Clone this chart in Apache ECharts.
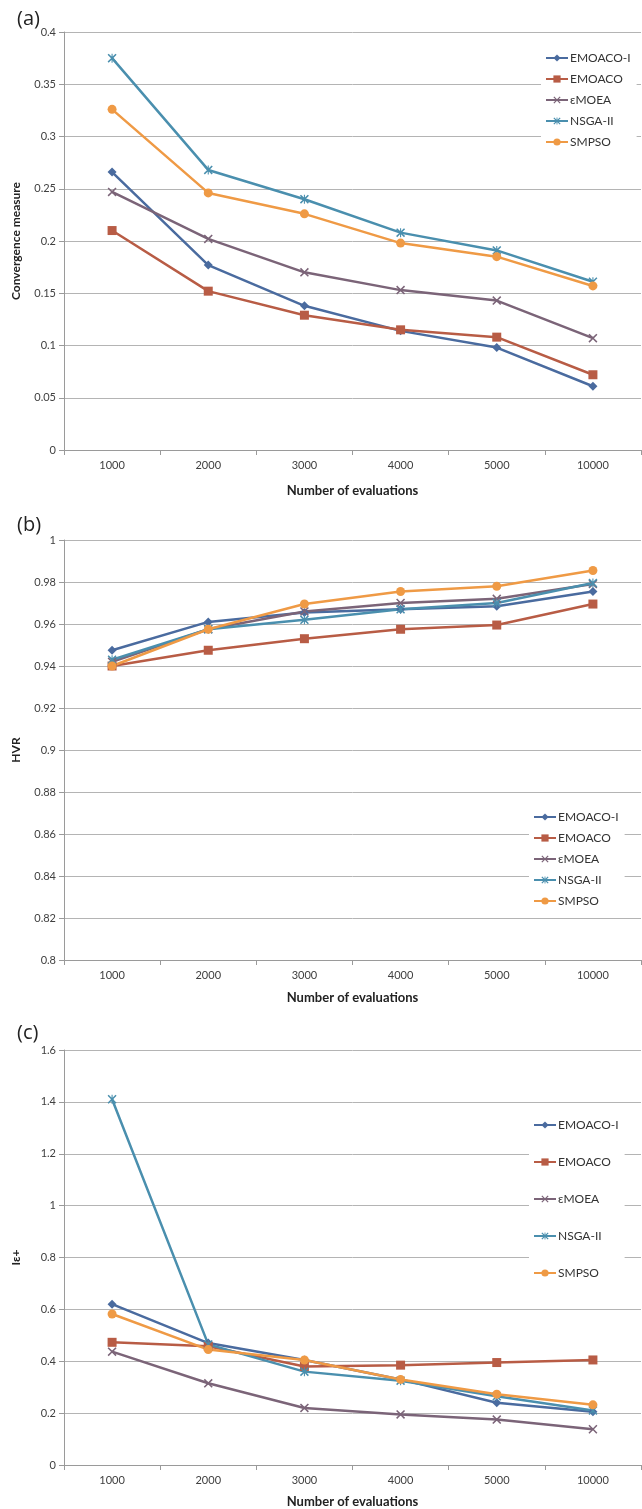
<!DOCTYPE html>
<html>
<head>
<meta charset="utf-8">
<script src="https://cdn.jsdelivr.net/npm/echarts@6/dist/echarts.min.js"></script>
<style>
  html, body { margin: 0; padding: 0; background: #fff; }
  #chart { width: 642px; height: 1509px; }
</style>
</head>
<body>
<div id="chart"></div>
<script>
const evaluations = ['1000', '2000', '3000', '4000', '5000', '10000']
const algorithms = ['EMOACO-I', 'EMOACO', 'εMOEA', 'NSGA-II', 'SMPSO']

// (a) convergence measure
const convEmoacoI = [0.266, 0.177, 0.138, 0.114, 0.098, 0.061]
const convEmoaco = [0.210, 0.152, 0.129, 0.115, 0.108, 0.072]
const convEmoea = [0.247, 0.202, 0.170, 0.153, 0.143, 0.107]
const convNsga = [0.375, 0.268, 0.240, 0.208, 0.191, 0.161]
const convSmpso = [0.326, 0.246, 0.226, 0.198, 0.185, 0.157]

// (b) HVR
const hvrEmoacoI = [0.9475, 0.961, 0.9655, 0.967, 0.9685, 0.9755]
const hvrEmoaco = [0.940, 0.9475, 0.953, 0.9575, 0.9595, 0.9695]
const hvrEmoea = [0.942, 0.9575, 0.966, 0.970, 0.972, 0.979]
const hvrNsga = [0.943, 0.9575, 0.962, 0.967, 0.970, 0.9795]
const hvrSmpso = [0.940, 0.9575, 0.9695, 0.9755, 0.978, 0.9855]

// (c) I-epsilon+
const epsEmoacoI = [0.62, 0.47, 0.405, 0.33, 0.24, 0.205]
const epsEmoaco = [0.473, 0.458, 0.38, 0.385, 0.395, 0.405]
const epsEmoea = [0.437, 0.315, 0.22, 0.195, 0.175, 0.138]
const epsNsga = [1.41, 0.465, 0.36, 0.325, 0.265, 0.21]
const epsSmpso = [0.582, 0.445, 0.405, 0.33, 0.273, 0.232]

const colors = ['#4a6b9f', '#b85c45', '#7b6478', '#4a8fae', '#ef9a45']
const xShape = 'path://M0,1.2 L1.2,0 L5,3.8 L8.8,0 L10,1.2 L6.2,5 L10,8.8 L8.8,10 L5,6.2 L1.2,10 L0,8.8 L3.8,5 Z'
const starShape = 'path://M0,1.2 L1.2,0 L5,3.8 L8.8,0 L10,1.2 L6.2,5 L10,8.8 L8.8,10 L5,6.2 L1.2,10 L0,8.8 L3.8,5 Z M4.4,0 L5.6,0 L5.6,10 L4.4,10 Z'
const symbols = ['diamond', 'rect', xShape, starShape, 'circle']

const font = 'Lato, "Open Sans", sans-serif'
const panels = [
  { top: 32, height: 418, min: 0, max: 0.4, interval: 0.05, name: 'Convergence measure', data: [convEmoacoI, convEmoaco, convEmoea, convNsga, convSmpso], legendTop: 47, legendLeft: 541, legendGap: 9, nameGap: 34 },
  { top: 540, height: 420, min: 0.8, max: 1, interval: 0.02, name: 'HVR', data: [hvrEmoacoI, hvrEmoaco, hvrEmoea, hvrNsga, hvrSmpso], legendTop: 806, legendLeft: 529, legendGap: 9, nameGap: 31 },
  { top: 1050, height: 419, min: 0, max: 1.6, interval: 0.2, name: 'Iε+', data: [epsEmoacoI, epsEmoaco, epsEmoea, epsNsga, epsSmpso], legendTop: 1114, legendLeft: 529, legendGap: 25, nameGap: 30 },
]
const letters = ['(a)', '(b)', '(c)']
const letterTops = [4, 510, 1018]

const option = {
  animation: false,
  backgroundColor: '#fff',
  textStyle: { fontFamily: font },
  title: letters.map((t, i) => ({
    text: t, left: 12, top: letterTops[i],
    textStyle: { fontSize: 20, fontWeight: 'normal', color: '#222', fontFamily: 'Open Sans, sans-serif' },
  })),
  grid: panels.map(p => ({ left: 64, right: 1, top: p.top, height: p.height, containLabel: false })),
  xAxis: panels.map((p, i) => ({
    type: 'category',
    gridIndex: i,
    data: evaluations,
    boundaryGap: true,
    name: 'Number of evaluations',
    nameLocation: 'middle',
    nameGap: p.nameGap,
    nameTextStyle: { fontSize: 13, fontWeight: 'bold', color: '#222' },
    axisLine: { lineStyle: { color: '#9a9a9a', width: 1 } },
    axisTick: { show: true, length: 5, lineStyle: { color: '#9a9a9a' } },
    axisLabel: { fontSize: 11, color: '#404040', margin: 10 },
    splitLine: { show: false },
  })),
  yAxis: panels.map((p, i) => ({
    type: 'value',
    gridIndex: i,
    min: p.min,
    max: p.max,
    interval: p.interval,
    name: p.name,
    nameLocation: 'middle',
    nameGap: 42,
    nameTextStyle: { fontSize: 12, fontWeight: 'bold', color: '#222' },
    axisLine: { show: true, lineStyle: { color: '#9a9a9a', width: 1 } },
    axisTick: { show: true, length: 5, lineStyle: { color: '#9a9a9a' } },
    axisLabel: { fontSize: 11, color: '#404040', margin: 8 },
    splitLine: { lineStyle: { color: '#b4b4b4', width: 1 } },
  })),
  legend: panels.map(p => ({
    orient: 'vertical',
    left: p.legendLeft,
    top: p.legendTop,
    data: algorithms,
    itemGap: p.legendGap,
    itemWidth: 22,
    itemHeight: 9,
    backgroundColor: '#fff',
    padding: [5, 6, 5, 4],
    textStyle: { fontSize: 12, color: '#333', padding: [0, 0, 0, -3] },
  })),
  series: [],
}

panels.forEach((p, pi) => {
  p.data.forEach((values, si) => {
    option.series.push({
      name: algorithms[si],
      type: 'line',
      xAxisIndex: pi,
      yAxisIndex: pi,
      data: values,
      symbol: symbols[si],
      symbolSize: 9,
      showAllSymbol: true,
      lineStyle: { color: colors[si], width: 2.5 },
      itemStyle: { color: colors[si] },
      z: 3,
    })
  })
})

const chart = echarts.init(document.getElementById('chart'), null, { renderer: 'canvas' })
chart.setOption(option)
</script>
</body>
</html>
